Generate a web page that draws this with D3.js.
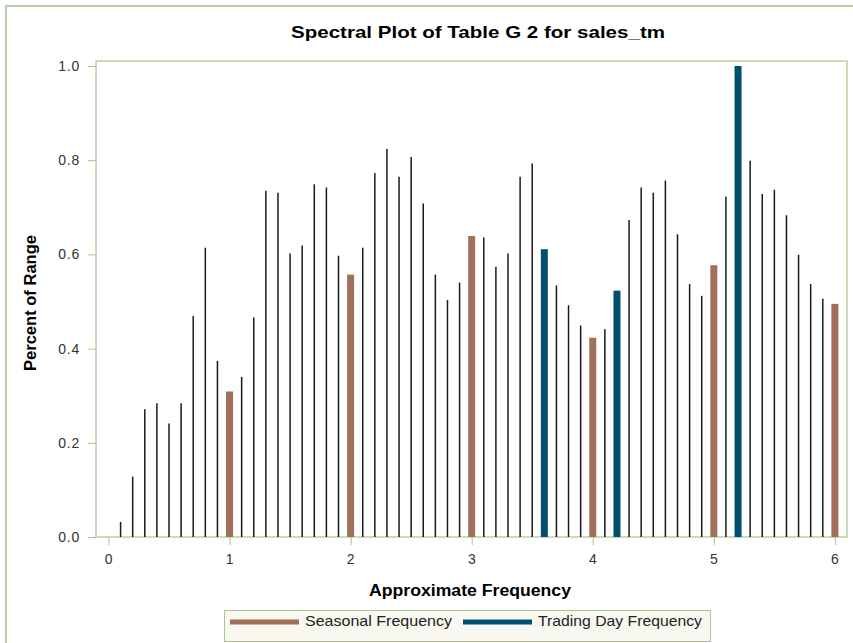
<!DOCTYPE html>
<html lang="en">
<head>
<meta charset="utf-8">
<title>Spectral Plot of Table G 2 for sales_tm</title>
<script src="https://cdn.jsdelivr.net/npm/d3@7"></script>
<style>
  body { margin: 0; background: #fff; }
  svg { font-family: "Liberation Sans", Arial, sans-serif; }
  .tick text { font-size: 14px; fill: #333; letter-spacing: 0.8px; }
  .title { font-size: 17px; font-weight: bold; text-anchor: middle; }
  .axlabel { font-size: 16px; font-weight: bold; text-anchor: middle; }
  .legend { font-size: 15px; fill: #222; dominant-baseline: middle; }
</style>
</head>
<body>
<script>
// frequencies 0.1 .. 6.0 and spectral values (percent of range)
var freqs = ["0.1","0.2","0.3","0.4","0.5","0.6","0.7","0.8","0.9","1.0",
             "1.1","1.2","1.3","1.4","1.5","1.6","1.7","1.8","1.9","2.0",
             "2.1","2.2","2.3","2.4","2.5","2.6","2.7","2.8","2.9","3.0",
             "3.1","3.2","3.3","3.4","3.5","3.6","3.7","3.8","3.9","4.0",
             "4.1","4.2","4.3","4.4","4.5","4.6","4.7","4.8","4.9","5.0",
             "5.1","5.2","5.3","5.4","5.5","5.6","5.7","5.8","5.9","6.0"].map(Number);
var values = [0.032,0.128,0.271,0.284,0.241,0.284,0.469,0.614,0.374,0.309,
              0.340,0.466,0.735,0.731,0.602,0.619,0.749,0.742,0.597,0.557,
              0.614,0.773,0.824,0.765,0.807,0.708,0.557,0.503,0.540,0.639,
              0.636,0.574,0.602,0.765,0.793,0.611,0.534,0.492,0.449,0.423,
              0.441,0.523,0.673,0.742,0.731,0.757,0.643,0.537,0.512,0.577,
              0.723,1.000,0.799,0.728,0.737,0.683,0.599,0.537,0.506,0.495];
var seasonalFreqs = [1, 2, 3, 4, 5, 6];
var tradingFreqs = [3.6, 4.2, 5.2];
var xTicks = [0, 1, 2, 3, 4, 5, 6];
var yTicks = [0, 0.2, 0.4, 0.6, 0.8, 1.0];
var legendItems = ["Seasonal Frequency", "Trading Day Frequency"];

var w = 853, h = 643;
var padL = 96, padR = 847, padT = 61, padB = 537;
var frameCol = "#a9c590";
var seasCol = "#a0705a", tdCol = "#004f6e";

var svg = d3.select("body").append("svg").attr("width", w).attr("height", h);

// outer border (only top/left visible)
svg.append("path").attr("d", "M6," + h + " V6 H" + w)
   .attr("fill", "none").attr("stroke", "#b8cfa2").attr("stroke-width", 2);

var x = d3.scaleLinear().domain([-0.103, 6.1]).range([padL, padR]);
var y = d3.scaleLinear().domain([0, 1.0106]).range([padB, padT]);

var data = freqs.map(function(f, i) { return {f: f, v: values[i]}; });
function isIn(arr, f) { return arr.some(function(a) { return Math.abs(a - f) < 1e-6; }); }
function kind(d) {
  if (isIn(seasonalFreqs, d.f)) return "s";
  if (isIn(tradingFreqs, d.f)) return "t";
  return "n";
}

// frame
svg.append("rect").attr("x", padL).attr("y", padT)
   .attr("width", padR - padL).attr("height", padB - padT)
   .attr("fill", "none").attr("stroke", frameCol).attr("stroke-width", 1.2);

// plain spikes
svg.append("g").selectAll("line")
   .data(data.filter(function(d) { return kind(d) == "n"; }))
   .enter().append("line")
   .attr("x1", function(d) { return x(d.f); }).attr("x2", function(d) { return x(d.f); })
   .attr("y1", y(0)).attr("y2", function(d) { return y(d.v); })
   .attr("stroke", "#1a1a1a").attr("stroke-width", 1.5);

// highlighted bars
svg.append("g").selectAll("rect")
   .data(data.filter(function(d) { return kind(d) != "n"; }))
   .enter().append("rect")
   .attr("x", function(d) { return x(d.f) - 3.5; })
   .attr("width", 7)
   .attr("y", function(d) { return y(d.v); })
   .attr("height", function(d) { return y(0) - y(d.v); })
   .attr("fill", function(d) { return kind(d) == "s" ? seasCol : tdCol; });

// axes
var xAxis = svg.append("g").attr("transform", "translate(0," + padB + ")")
   .call(d3.axisBottom(x).tickValues(xTicks).tickSize(8).tickPadding(9).tickFormat(d3.format("d")));
var yAxis = svg.append("g").attr("transform", "translate(" + padL + ",0)")
   .call(d3.axisLeft(y).tickValues(yTicks).tickSize(8).tickPadding(8).tickFormat(d3.format(".1f")));
[xAxis, yAxis].forEach(function(g) {
  g.select(".domain").remove();
  g.selectAll(".tick line").attr("stroke", frameCol);
});

// titles
svg.append("text").attr("class", "title").attr("x", 478).attr("y", 38)
   .attr("textLength", 374).attr("lengthAdjust", "spacingAndGlyphs")
   .text("Spectral Plot of Table G 2 for sales_tm");
svg.append("text").attr("class", "axlabel").attr("x", 470).attr("y", 596)
   .attr("textLength", 202).attr("lengthAdjust", "spacingAndGlyphs")
   .text("Approximate Frequency");
svg.append("text").attr("class", "axlabel")
   .attr("transform", "translate(36,303) rotate(-90)")
   .attr("textLength", 136).attr("lengthAdjust", "spacingAndGlyphs")
   .text("Percent of Range");

// legend
svg.append("rect").attr("x", 224.5).attr("y", 610.5).attr("width", 486).attr("height", 31)
   .attr("fill", "#f8f8f1").attr("stroke", frameCol);
var legX = [230, 463];
var legW = [147, 164];
var lg = svg.selectAll(".leg").data(legendItems).enter().append("g")
   .attr("transform", function(d, i) { return "translate(" + legX[i] + ",622)"; });
lg.append("line").attr("x1", 0).attr("x2", 69).attr("y1", 0).attr("y2", 0)
   .attr("stroke", function(d, i) { return i == 0 ? seasCol : tdCol; }).attr("stroke-width", 5);
lg.append("text").attr("class", "legend").attr("x", 75).attr("y", 0)
   .attr("textLength", function(d, i) { return legW[i]; }).attr("lengthAdjust", "spacingAndGlyphs")
   .text(function(d) { return d; });
</script>
</body>
</html>
